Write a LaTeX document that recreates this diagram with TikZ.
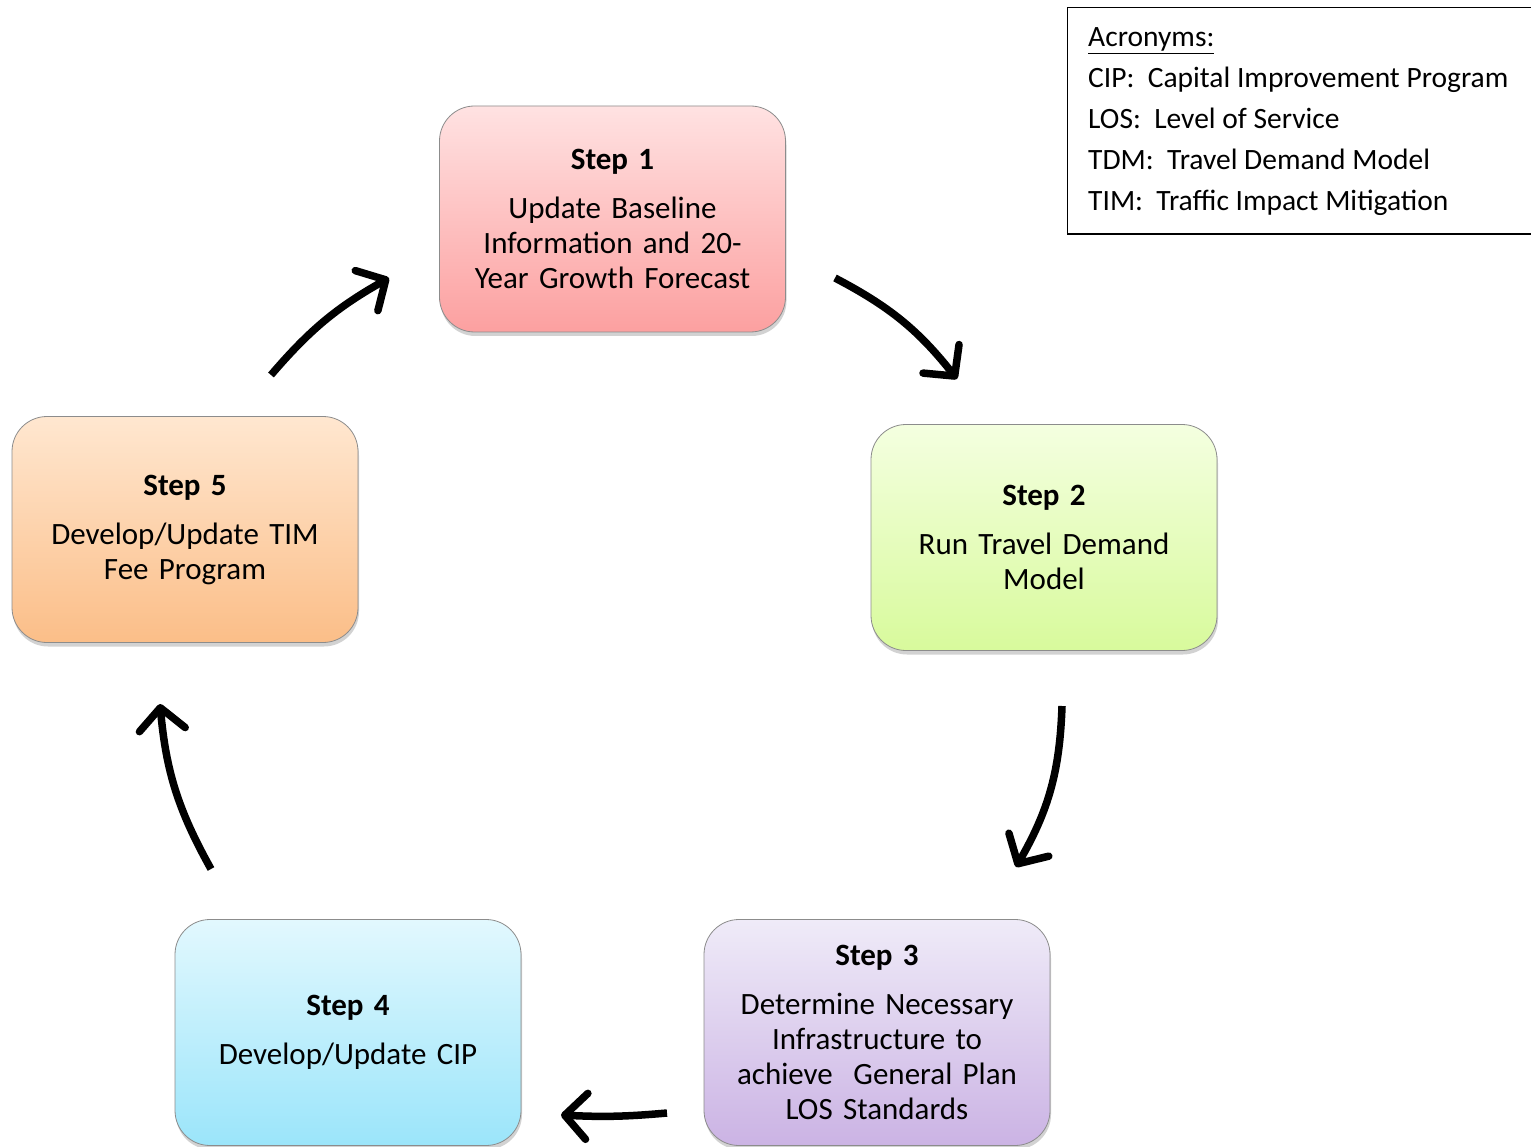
\documentclass[tikz,border=0pt]{standalone}
\usepackage{fontspec}
\setmainfont{Carlito}
\usetikzlibrary{arrows.meta,shadows}
\definecolor{aTop}{HTML}{FFE2E2}\definecolor{aBot}{HTML}{FCA0A0}
\definecolor{bTop}{HTML}{F4FFE0}\definecolor{bBot}{HTML}{D8FA9C}
\definecolor{cTop}{HTML}{EFEBF8}\definecolor{cBot}{HTML}{CBB3E4}
\definecolor{dTop}{HTML}{E2F8FE}\definecolor{dBot}{HTML}{9BE5FA}
\definecolor{eTop}{HTML}{FFE7D0}\definecolor{eBot}{HTML}{FBBE88}
\tikzset{
  stepbox/.style={rectangle, rounded corners=35pt, draw=black!45, line width=0.8pt,
    minimum width=346pt, minimum height=226pt, text width=336pt, align=center,
    font=\fontsize{31}{35}\selectfont, inner sep=0pt,
    drop shadow={shadow xshift=1pt, shadow yshift=-4pt, opacity=0.35}},
  cyc/.style={line width=7.5pt, -{Straight Barb[round,length=22pt,width=46pt]}},
}
\newcommand{\ttl}[1]{{\bfseries #1}\\[14pt]}
\begin{document}
\begin{tikzpicture}[x=1pt,y=-1pt]
\useasboundingbox (0,0) rectangle (1531,1147);
\fill[white] (0,0) rectangle (1531,1147);

\node[stepbox, top color=aTop, bottom color=aBot] (s1) at (612.5,219) {\ttl{Step 1}Update Baseline\\Information and 20-\\Year Growth Forecast};
\node[stepbox, top color=bTop, bottom color=bBot] (s2) at (1044,537.5) {\ttl{Step 2}Run Travel Demand\\Model};
\node[stepbox, top color=cTop, bottom color=cBot] (s3) at (877,1032.5) {\ttl{Step 3}Determine Necessary\\Infrastructure to\\achieve\ \ General Plan\\LOS Standards};
\node[stepbox, top color=dTop, bottom color=dBot] (s4) at (348,1032.5) {\ttl{Step 4}Develop/Update CIP};
\node[stepbox, top color=eTop, bottom color=eBot] (s5) at (185,529.5) {\ttl{Step 5}Develop/Update TIM\\Fee Program};

\draw[line width=1.2pt] (1067.5,7.5) rectangle (1545,234);
\node[anchor=base west, align=left, inner sep=0pt, font=\fontsize{29.5}{41}\selectfont] (acr) at (1088,211)
 {\underline{Acronyms:}\\CIP:\ \ Capital Improvement Program\\LOS:\ \ Level of Service\\TDM:\ \ Travel Demand Model\\TIM:\ \ Traffic Impact Mitigation};

\coordinate (a1s) at (271,375); \coordinate (a1e) at (389,278);
\coordinate (a2s) at (835,278); \coordinate (a2e) at (957,379);
\coordinate (a3s) at (1062,706); \coordinate (a3e) at (1016,867);
\coordinate (a4s) at (667,1113); \coordinate (a4e) at (561,1115);
\coordinate (a5s) at (211,869); \coordinate (a5e) at (160,704);

\draw[cyc] (a1s) to[bend left=10] (a1e);
\draw[cyc] (a2s) to[bend left=12] (a2e);
\draw[cyc] (a3s) to[bend left=14] (a3e);
\draw[cyc] (a4s) to[bend left=4] (a4e);
\draw[cyc] (a5s) to[bend left=12] (a5e);
\end{tikzpicture}
\end{document}
